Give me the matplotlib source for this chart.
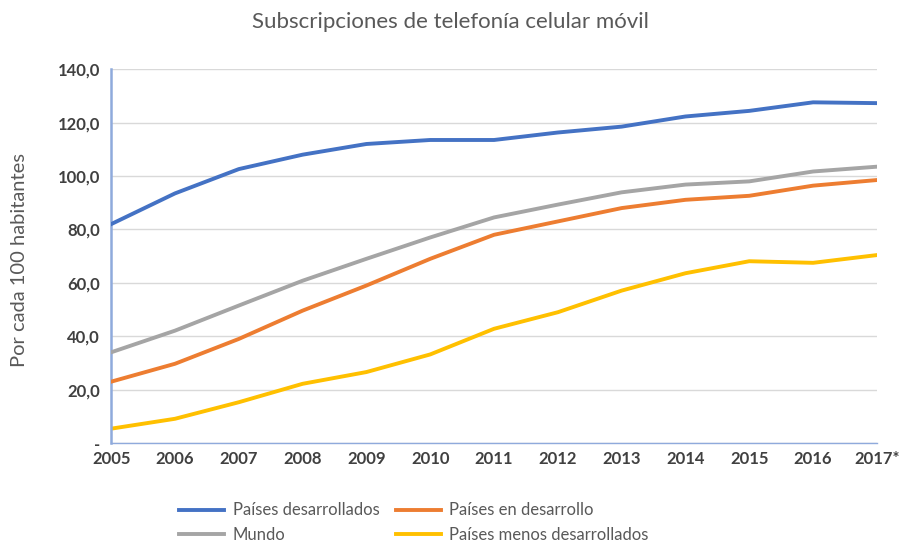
import matplotlib
matplotlib.use("Agg")
import matplotlib.pyplot as plt
from matplotlib.ticker import FixedLocator

years = ["2005", "2006", "2007", "2008", "2009", "2010", "2011",
         "2012", "2013", "2014", "2015", "2016", "2017*"]

desarrollados = [82.0, 93.5, 102.6, 108.0, 112.0, 113.5, 113.5,
                 116.3, 118.5, 122.3, 124.4, 127.6, 127.3]
en_desarrollo = [23.0, 29.7, 39.0, 49.6, 59.0, 69.0, 78.0,
                 83.0, 88.0, 91.1, 92.6, 96.4, 98.5]
mundo = [34.0, 42.1, 51.5, 60.8, 69.0, 77.0, 84.5,
         89.3, 93.9, 96.8, 98.0, 101.7, 103.5]
menos_desarrollados = [5.4, 9.1, 15.3, 22.2, 26.6, 33.2, 42.8,
                       49.0, 57.1, 63.6, 68.1, 67.5, 70.4]

y_ticks = [0, 20, 40, 60, 80, 100, 120, 140]
y_tick_labels = ["-", "20,0", "40,0", "60,0", "80,0", "100,0", "120,0", "140,0"]

plt.rcParams["font.family"] = ["Lato", "DejaVu Sans"]

fig = plt.figure(figsize=(9.04, 5.45), dpi=100)
ax = fig.add_axes([0.123, 0.187, 0.847, 0.686])

x = list(range(len(years)))
lw = 2.8
h_des, = ax.plot(x, desarrollados, color="#4472C4", lw=lw,
                 label="Países desarrollados", zorder=5)
h_en, = ax.plot(x, en_desarrollo, color="#ED7D31", lw=lw,
                label="Países en desarrollo", zorder=4)
h_mun, = ax.plot(x, mundo, color="#A5A5A5", lw=lw, label="Mundo", zorder=3)
h_men, = ax.plot(x, menos_desarrollados, color="#FFC000", lw=lw,
                 label="Países menos desarrollados", zorder=2)

ax.set_xlim(0, len(years) - 1)
ax.set_ylim(0, 140)
ax.set_xticks(x)
ax.set_xticklabels(years)
ax.yaxis.set_major_locator(FixedLocator(y_ticks))
ax.set_yticklabels(y_tick_labels)

ax.tick_params(axis="both", length=0, labelsize=12, colors="#404040")
ax.tick_params(axis="x", pad=6)
ax.tick_params(axis="y", pad=8)
for lab in ax.get_xticklabels() + ax.get_yticklabels():
    lab.set_fontweight("bold")

ax.grid(axis="y", color="#D9D9D9", lw=1.0)
ax.set_axisbelow(True)
for side in ("top", "right"):
    ax.spines[side].set_visible(False)
ax.spines["left"].set_color("#8FAADC")
ax.spines["left"].set_linewidth(1.8)
ax.spines["bottom"].set_color("#8FAADC")
ax.spines["bottom"].set_linewidth(1.0)

fig.text(0.022, 0.523, "Por cada 100 habitantes", rotation=90,
         ha="center", va="center", fontsize=14.5, color="#595959")

fig.text(0.498, 0.96, "Subscripciones de telefonía celular móvil",
         ha="center", va="center", fontsize=16, color="#595959")

# two columns, filled column by column
handles = [h_des, h_mun, h_en, h_men]
labels = [h.get_label() for h in handles]
fig.legend(handles, labels, ncol=2, loc="center", bbox_to_anchor=(0.458, 0.041),
           frameon=False, fontsize=12, labelcolor="#595959",
           handlelength=2.7, handletextpad=0.5, columnspacing=1.0,
           labelspacing=0.5, borderpad=0.0)

fig.savefig("out.png", dpi=100)
